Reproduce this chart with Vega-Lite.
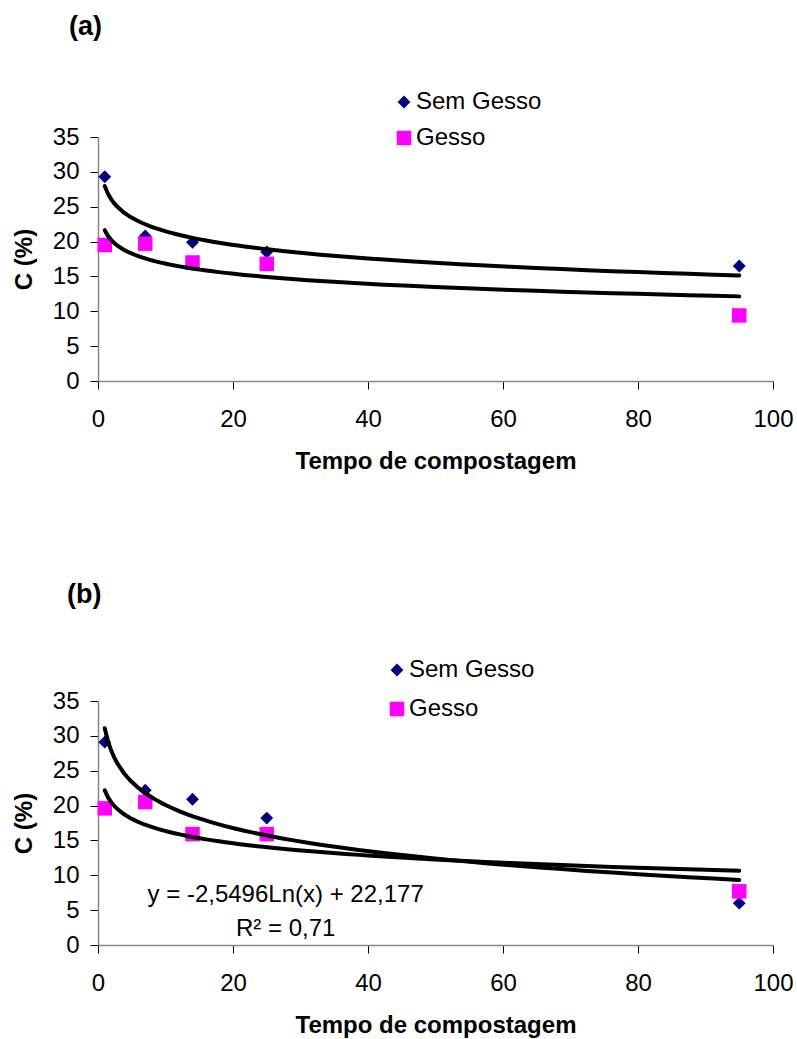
{
  "$schema": "https://vega.github.io/schema/vega-lite/v6.json",
  "background": "white",
  "padding": {"left": 12, "top": 12, "right": 4, "bottom": 4},
  "config": {
    "font": "Liberation Sans",
    "view": {"stroke": null},
    "axis": {
      "grid": false,
      "labelFont": "Liberation Sans",
      "labelFontSize": 24,
      "labelColor": "#000000",
      "titleFont": "Liberation Sans",
      "titleFontSize": 24,
      "titleFontWeight": "bold",
      "titleColor": "#000000",
      "tickSize": 8,
      "tickColor": "#000000",
      "tickWidth": 1,
      "domainColor": "#868686",
      "domainWidth": 1.5
    },
    "axisX": {"labelPadding": 18, "titlePadding": 18, "labelFlush": false},
    "axisY": {"labelPadding": 11, "titlePadding": 16},
    "legend": {
      "orient": "none",
      "title": null,
      "labelFont": "Liberation Sans",
      "labelFontSize": 24,
      "labelColor": "#000000",
      "symbolSize": 230,
      "labelOffset": 0
    }
  },
  "datasets": {
    "a": [
      {"t": 1, "C": 29.3, "serie": "Sem Gesso"},
      {"t": 7, "C": 20.8, "serie": "Sem Gesso"},
      {"t": 14, "C": 19.9, "serie": "Sem Gesso"},
      {"t": 25, "C": 18.5, "serie": "Sem Gesso"},
      {"t": 95, "C": 16.5, "serie": "Sem Gesso"},
      {"t": 1, "C": 19.5, "serie": "Gesso"},
      {"t": 7, "C": 19.7, "serie": "Gesso"},
      {"t": 14, "C": 17.0, "serie": "Gesso"},
      {"t": 25, "C": 16.8, "serie": "Gesso"},
      {"t": 95, "C": 9.4, "serie": "Gesso"}
    ],
    "b": [
      {"t": 1, "C": 29.1, "serie": "Sem Gesso"},
      {"t": 7, "C": 22.2, "serie": "Sem Gesso"},
      {"t": 14, "C": 20.9, "serie": "Sem Gesso"},
      {"t": 25, "C": 18.2, "serie": "Sem Gesso"},
      {"t": 95, "C": 6.0, "serie": "Sem Gesso"},
      {"t": 1, "C": 19.6, "serie": "Gesso"},
      {"t": 7, "C": 20.5, "serie": "Gesso"},
      {"t": 14, "C": 15.9, "serie": "Gesso"},
      {"t": 25, "C": 15.9, "serie": "Gesso"},
      {"t": 95, "C": 7.7, "serie": "Gesso"}
    ],
    "eq": [
      {"line1": "y = -2,5496Ln(x) + 22,177", "line2": "R² = 0,71"}
    ]
  },
  "bounds": "flush",
  "spacing": 320,
  "resolve": {
    "scale": {"color": "independent", "shape": "independent", "size": "independent", "x": "independent", "y": "independent"},
    "legend": {"color": "independent", "shape": "independent"}
  },
  "vconcat": [
    {
      "width": 675,
      "height": 244,
      "title": {"text": "(a)", "anchor": "start", "frame": "group", "dx": -29, "baseline": "alphabetic", "offset": 28.5, "fontSize": 27, "fontWeight": "bold", "font": "Liberation Sans", "color": "#000000"},
      "data": {"name": "a"},
      "encoding": {
        "x": {"field": "t", "type": "quantitative", "scale": {"domain": [0, 100], "nice": false}, "axis": {"values": [0, 20, 40, 60, 80, 100], "title": "Tempo de compostagem"}},
        "y": {"field": "C", "type": "quantitative", "scale": {"domain": [0, 35], "nice": false}, "axis": {"values": [0, 5, 10, 15, 20, 25, 30, 35], "title": "C (%)"}}
      },
      "layer": [
        {
          "mark": {"type": "point", "filled": true, "opacity": 1},
          "encoding": {
            "shape": {"field": "serie", "type": "nominal", "sort": null, "scale": {"domain": ["Sem Gesso", "Gesso"], "range": ["diamond", "square"]}, "legend": {"orient": "none", "legendX": 294, "legendY": -47, "rowPadding": 12, "labelExpr": "datum.label == 'Gesso' ? '\u2005Gesso' : datum.label"}},
            "color": {"field": "serie", "type": "nominal", "sort": null, "scale": {"domain": ["Sem Gesso", "Gesso"], "range": ["#000080", "#FF00FF"]}, "legend": {"orient": "none", "legendX": 294, "legendY": -47, "rowPadding": 12, "labelExpr": "datum.label == 'Gesso' ? '\u2005Gesso' : datum.label"}},
            "size": {"field": "serie", "type": "nominal", "sort": null, "scale": {"domain": ["Sem Gesso", "Gesso"], "range": [165, 210]}, "legend": null}
          }
        },
        {
          "transform": [{"regression": "C", "on": "t", "groupby": ["serie"], "method": "log", "extent": [1, 95]}],
          "mark": {"type": "line", "color": "#000000", "strokeWidth": 4, "strokeCap": "round"},
          "encoding": {"detail": {"field": "serie", "type": "nominal"}}
        }
      ]
    },
    {
      "width": 675,
      "height": 244,
      "title": {"text": "(b)", "anchor": "start", "frame": "group", "dx": -31, "baseline": "alphabetic", "offset": 28, "fontSize": 27, "fontWeight": "bold", "font": "Liberation Sans", "color": "#000000"},
      "encoding": {
        "x": {"type": "quantitative", "scale": {"domain": [0, 100], "nice": false}, "axis": {"values": [0, 20, 40, 60, 80, 100], "title": "Tempo de compostagem"}},
        "y": {"type": "quantitative", "scale": {"domain": [0, 35], "nice": false}, "axis": {"values": [0, 5, 10, 15, 20, 25, 30, 35], "title": "C (%)"}}
      },
      "layer": [
        {
          "data": {"name": "b"},
          "mark": {"type": "point", "filled": true, "opacity": 1},
          "encoding": {
            "x": {"field": "t", "type": "quantitative"},
            "y": {"field": "C", "type": "quantitative"},
            "shape": {"field": "serie", "type": "nominal", "sort": null, "scale": {"domain": ["Sem Gesso", "Gesso"], "range": ["diamond", "square"]}, "legend": {"orient": "none", "legendX": 287, "legendY": -43, "rowPadding": 15}},
            "color": {"field": "serie", "type": "nominal", "sort": null, "scale": {"domain": ["Sem Gesso", "Gesso"], "range": ["#000080", "#FF00FF"]}, "legend": {"orient": "none", "legendX": 287, "legendY": -43, "rowPadding": 15}},
            "size": {"field": "serie", "type": "nominal", "sort": null, "scale": {"domain": ["Sem Gesso", "Gesso"], "range": [165, 210]}, "legend": null}
          }
        },
        {
          "data": {"name": "b"},
          "transform": [{"regression": "C", "on": "t", "groupby": ["serie"], "method": "log", "extent": [1, 95]}],
          "mark": {"type": "line", "color": "#000000", "strokeWidth": 4, "strokeCap": "round"},
          "encoding": {
            "x": {"field": "t", "type": "quantitative"},
            "y": {"field": "C", "type": "quantitative"},
            "detail": {"field": "serie", "type": "nominal"}
          }
        },
        {
          "data": {"name": "eq"},
          "mark": {"type": "text", "font": "Liberation Sans", "fontSize": 24, "align": "center", "baseline": "alphabetic", "color": "#000000"},
          "encoding": {
            "x": {"datum": 27.8, "type": "quantitative"},
            "y": {"datum": 6.1, "type": "quantitative"},
            "text": {"field": "line1", "type": "nominal"}
          }
        },
        {
          "data": {"name": "eq"},
          "mark": {"type": "text", "font": "Liberation Sans", "fontSize": 24, "align": "center", "baseline": "alphabetic", "color": "#000000"},
          "encoding": {
            "x": {"datum": 27.8, "type": "quantitative"},
            "y": {"datum": 1.35, "type": "quantitative"},
            "text": {"field": "line2", "type": "nominal"}
          }
        }
      ]
    }
  ]
}
